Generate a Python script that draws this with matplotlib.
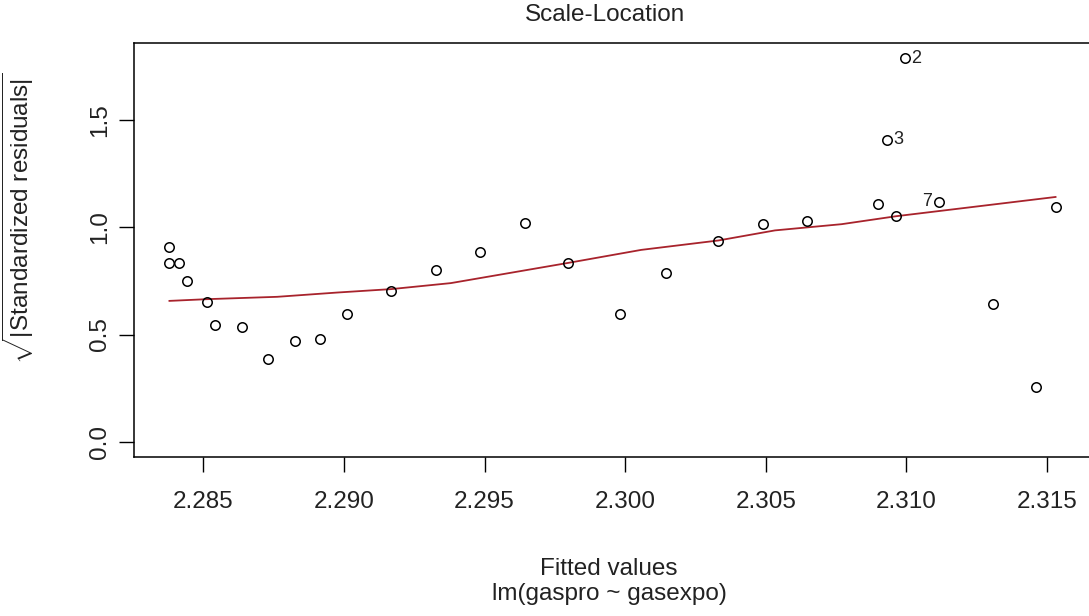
import matplotlib
matplotlib.use('Agg')
import matplotlib.pyplot as plt
import numpy as np

plt.rcParams['font.family'] = ['Liberation Sans', 'DejaVu Sans']
plt.rcParams['mathtext.fontset'] = 'custom'
plt.rcParams['mathtext.rm'] = 'Liberation Sans'
plt.rcParams['mathtext.it'] = 'Liberation Sans'

# fitted values and sqrt(|standardized residuals|)
fitted = [2.28379, 2.28379, 2.28414, 2.28443, 2.28512, 2.28542, 2.28637,
          2.28728, 2.28825, 2.28916, 2.29012, 2.29168, 2.29327, 2.29483,
          2.29643, 2.29796, 2.29983, 2.30144, 2.30332, 2.30492, 2.30647,
          2.30899, 2.30931, 2.30963, 2.30994, 2.31117, 2.31309, 2.31463,
          2.31531]
sqrt_res = [0.907, 0.832, 0.832, 0.751, 0.651, 0.545, 0.537,
            0.386, 0.469, 0.477, 0.598, 0.704, 0.801, 0.884,
            1.020, 0.834, 0.598, 0.789, 0.936, 1.014, 1.028,
            1.107, 1.408, 1.053, 1.789, 1.119, 0.642, 0.257,
            1.095]

# red smoother line
smooth_x = [2.28379, 2.28512, 2.28762, 2.28976, 2.29168, 2.29380, 2.29796,
            2.30057, 2.30332, 2.30533, 2.30770, 2.30963, 2.31531]
smooth_y = [0.657, 0.665, 0.676, 0.696, 0.712, 0.740, 0.834,
            0.895, 0.939, 0.986, 1.015, 1.052, 1.142]

# labelled points: index into the arrays, side of the label
ids = {'2': 24, '3': 22, '7': 25}
id_side = {'2': 'right', '3': 'right', '7': 'left'}

xticks = [2.285, 2.290, 2.295, 2.300, 2.305, 2.310, 2.315]
yticks = [0.0, 0.5, 1.0, 1.5]

fs = 17.5
tcol = '#222222'

fig = plt.figure(figsize=(10.89, 6.16), dpi=100)
ax = fig.add_axes([134/1089, 159/616, 957/1089, 414/616])

ax.plot(smooth_x, smooth_y, color='#a8232c', lw=1.3, zorder=2)
ax.plot(fitted, sqrt_res, 'o', mfc='none', mec='black', ms=6.8, mew=1.1, zorder=3)

for lab, i in ids.items():
    if id_side[lab] == 'right':
        ax.annotate(lab, (fitted[i], sqrt_res[i]), xytext=(5, 0), textcoords='offset points',
                    ha='left', va='center', fontsize=13, color=tcol)
    else:
        ax.annotate(lab, (fitted[i], sqrt_res[i]), xytext=(-5, 0), textcoords='offset points',
                    ha='right', va='center', fontsize=13, color=tcol)

xr = max(fitted) - min(fitted)
ax.set_xlim(min(fitted) - 0.04 * xr, max(fitted) + 0.04 * xr)
ymax = max(sqrt_res)
ax.set_ylim(-0.04 * ymax, ymax * 1.04)

ax.set_xticks(xticks)
ax.set_xticklabels(['%.3f' % v for v in xticks])
ax.set_yticks(yticks)
ax.set_yticklabels(['%.1f' % v for v in yticks], rotation=90, va='center')
ax.tick_params(direction='out', length=10.5, width=1, labelsize=fs, colors='black',
               labelcolor=tcol)
ax.tick_params(axis='x', pad=14)
ax.tick_params(axis='y', pad=6)

for s in ax.spines.values():
    s.set_linewidth(1.1)

fig.text(605/1089, 1 - 15/616, 'Scale-Location', ha='center', va='center',
         fontsize=fs, color=tcol)
fig.text(18/1089, 1 - 218/616, r'$\sqrt{|\mathrm{Standardized\ residuals}|}$',
         rotation=90, ha='center', va='center', fontsize=fs, color=tcol)
fig.text(609/1089, 1 - 569/616, 'Fitted values', ha='center', va='center',
         fontsize=fs, color=tcol)
fig.text(609/1089, 1 - 594/616, 'lm(gaspro ~ gasexpo)', ha='center', va='center',
         fontsize=fs, color=tcol)

fig.savefig('out.png', dpi=100)
